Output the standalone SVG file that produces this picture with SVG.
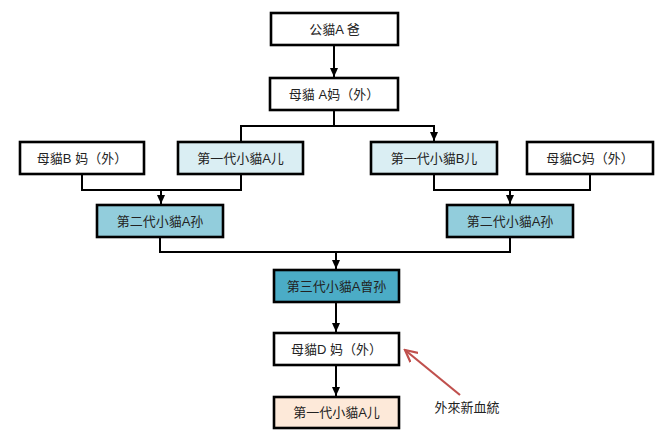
<svg xmlns="http://www.w3.org/2000/svg" width="670" height="433" viewBox="0 0 670 433">
<style>
.box{stroke:#000;stroke-width:2.6}
.w{fill:#fff}
.g1{fill:#DAEEF3}
.g2{fill:#92CDDC}
.g3{fill:#4BACC6}
.pe{fill:#FDE9D9}
.lbl{font-family:"Liberation Sans","Noto Sans CJK SC","Noto Sans CJK TC",sans-serif;font-size:13px;fill:#222;text-anchor:middle;dominant-baseline:central}
.c{fill:none;stroke:#000;stroke-width:2}
.red{fill:none;stroke:#C0504D;stroke-width:2.2}
</style>
<defs>
<marker id="ah" markerUnits="userSpaceOnUse" markerWidth="10" markerHeight="10" refX="9" refY="5" orient="auto">
<path d="M0,1 L9,5 L0,9 Z" fill="#000"/>
</marker>
<marker id="ahr" markerUnits="userSpaceOnUse" markerWidth="14" markerHeight="14" refX="12" refY="7" orient="auto">
<path d="M0,1 L12,7 L0,13" fill="none" stroke="#C0504D" stroke-width="2.2"/>
</marker>
</defs>
<rect width="670" height="433" fill="#fff"/>
<g id="connectors">
<line class="c" x1="334" y1="45" x2="334" y2="77" marker-end="url(#ah)"/>
<polyline class="c" points="334,110 334,126"/>
<polyline class="c" points="241,141 241,126 434,126 434,141" marker-start="url(#ah)" marker-end="url(#ah)"/>
<polyline class="c" points="82,174 82,190 241,190 241,174"/>
<line class="c" x1="161" y1="190" x2="161" y2="204" marker-end="url(#ah)"/>
<polyline class="c" points="434,174 434,190 590,190 590,174"/>
<line class="c" x1="510" y1="190" x2="510" y2="204" marker-end="url(#ah)"/>
<polyline class="c" points="160,237 160,252 510,252 510,237"/>
<line class="c" x1="336" y1="252" x2="336" y2="269" marker-end="url(#ah)"/>
<line class="c" x1="336" y1="302" x2="336" y2="332" marker-end="url(#ah)"/>
<line class="c" x1="336" y1="365" x2="336" y2="396" marker-end="url(#ah)"/>
<line class="red" x1="460" y1="395" x2="405" y2="350" marker-end="url(#ahr)"/>
</g>
<g id="n1"><rect class="box w" x="271" y="13" width="127" height="32"/><text class="lbl" x="334.5" y="29">公貓A 爸</text></g>
<g id="n2"><rect class="box w" x="270" y="78" width="128" height="32"/><text class="lbl" x="334" y="94">母貓 A妈（外）</text></g>
<g id="n3"><rect class="box w" x="20" y="142" width="124" height="32"/><text class="lbl" x="82" y="158">母貓B 妈（外）</text></g>
<g id="n4"><rect class="box g1" x="178" y="142" width="125" height="32"/><text class="lbl" x="240.5" y="158">第一代小貓A儿</text></g>
<g id="n5"><rect class="box g1" x="371" y="142" width="126" height="32"/><text class="lbl" x="434" y="158">第一代小貓B儿</text></g>
<g id="n6"><rect class="box w" x="527" y="142" width="126" height="32"/><text class="lbl" x="590" y="158">母貓C妈（外）</text></g>
<g id="n7"><rect class="box g2" x="97" y="205" width="126" height="32"/><text class="lbl" x="160" y="221">第二代小貓A孙</text></g>
<g id="n8"><rect class="box g2" x="447" y="205" width="126" height="32"/><text class="lbl" x="510" y="221">第二代小貓A孙</text></g>
<g id="n9"><rect class="box g3" x="274" y="270" width="125" height="32"/><text class="lbl" x="336.5" y="286">第三代小貓A曾孙</text></g>
<g id="n10"><rect class="box w" x="274" y="333" width="125" height="32"/><text class="lbl" x="336.5" y="349">母貓D 妈（外）</text></g>
<g id="n11"><rect class="box pe" x="274" y="397" width="125" height="31"/><text class="lbl" x="336.5" y="412.5">第一代小貓A儿</text></g>
<g id="note"><text class="lbl" x="467" y="407">外來新血統</text></g>
</svg>
